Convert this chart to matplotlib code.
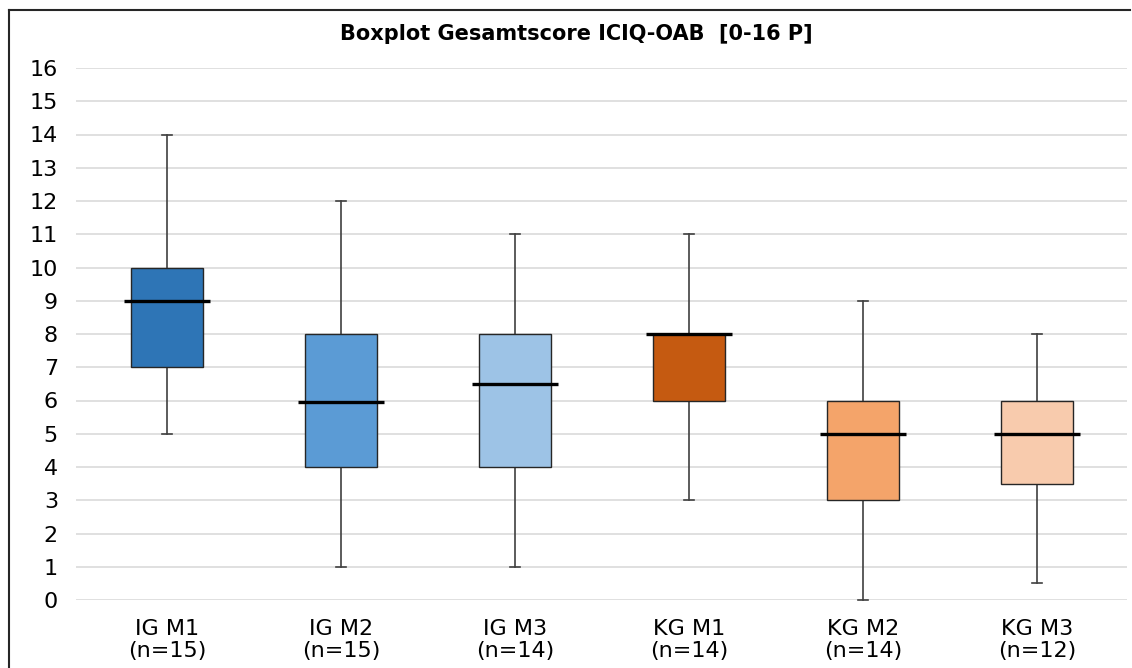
import matplotlib.pyplot as plt
from matplotlib.lines import Line2D

plt.rcParams['font.family'] = ['DejaVu Sans']

# Box statistics
groups = ['IG M1', 'IG M2', 'IG M3', 'KG M1', 'KG M2', 'KG M3']
counts = [15, 15, 14, 14, 14, 12]
mins = [5, 1, 1, 3, 0, 0.5]
q1s = [7, 4, 4, 6, 3, 3.5]
medians = [9, 5.95, 6.5, 8, 5, 5]
q3s = [10, 8, 8, 8, 6, 6]
maxs = [14, 12, 11, 11, 9, 8]
colors = ['#2E75B6', '#5B9BD5', '#9DC3E6', '#C55A11', '#F4A46A', '#F8CBAD']

fig = plt.figure(figsize=(11.32, 6.68), dpi=100)
ax = fig.add_axes([76 / 1132, 1 - 600 / 668, (1127 - 76) / 1132, (600 - 68) / 668])

stats = []
for g, lo, a, m, b, hi in zip(groups, mins, q1s, medians, q3s, maxs):
    stats.append({'label': g, 'whislo': lo, 'q1': a, 'med': m, 'q3': b,
                  'whishi': hi, 'fliers': []})

positions = list(range(1, len(groups) + 1))
bp = ax.bxp(stats, positions=positions, widths=0.41, patch_artist=True,
            showfliers=False, capwidths=0.06,
            boxprops=dict(edgecolor='#262626', linewidth=1.0),
            whiskerprops=dict(color='#404040', linewidth=1.2),
            capprops=dict(color='#404040', linewidth=1.2),
            medianprops=dict(linewidth=0))
for patch, c in zip(bp['boxes'], colors):
    patch.set_facecolor(c)
    patch.set_zorder(3)
for w in bp['whiskers'] + bp['caps']:
    w.set_zorder(2)
    w.set_clip_on(False)

# wider median bars
ax.hlines(medians, [p - 0.245 for p in positions], [p + 0.245 for p in positions],
          colors='black', linewidth=2.4, zorder=4)

ax.set_xlim(0.477, 6.517)
ax.set_ylim(0, 16)
ax.set_yticks(range(0, 17))
ax.set_xticks(positions)
ax.set_xticklabels([f'{g}\n(n={n})' for g, n in zip(groups, counts)], linespacing=1.12)
ax.tick_params(axis='both', length=0, labelsize=16, colors='black')
ax.tick_params(axis='y', pad=13)
ax.tick_params(axis='x', pad=14)
ax.yaxis.grid(True, color='#E0E0E0', linewidth=1.4)
ax.set_axisbelow(True)
for s in ax.spines.values():
    s.set_visible(False)

fig.text(576 / 1132, 1 - 34 / 668, 'Boxplot Gesamtscore ICIQ-OAB  [0-16 P]',
         ha='center', va='center', fontsize=15, fontweight='bold')

# outer frame (left and top edges visible)
fig.add_artist(Line2D([9 / 1132, 9 / 1132], [0, 1 - 10 / 668], transform=fig.transFigure,
                      color='#262626', linewidth=1.5))
fig.add_artist(Line2D([9 / 1132, 1130 / 1132], [1 - 10 / 668, 1 - 10 / 668],
                      transform=fig.transFigure, color='#262626', linewidth=1.5))

fig.savefig('out.png', dpi=100)
